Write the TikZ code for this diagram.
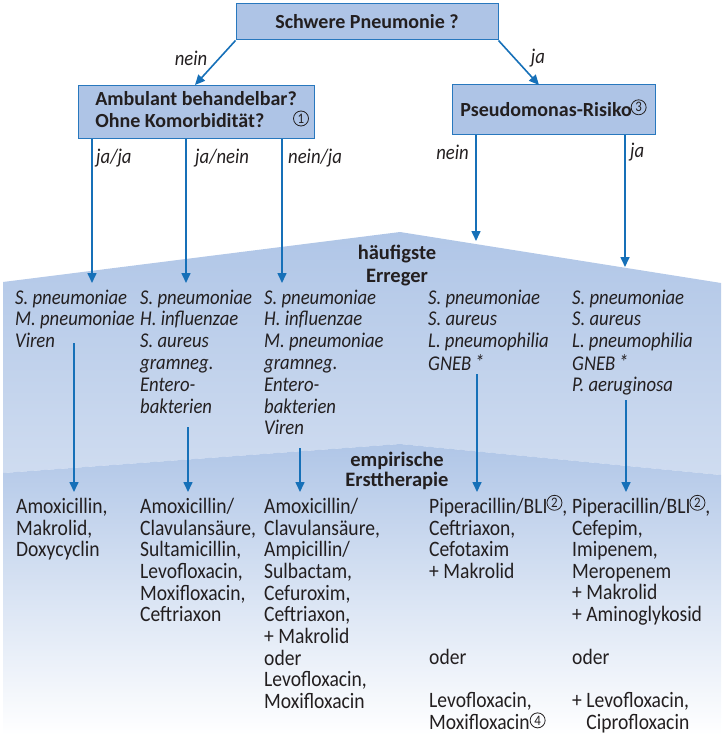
\documentclass[tikz,border=0pt]{standalone}
\usepackage{fontspec}
\setmainfont{Carlito}
\newfontfamily\bodyfont{Carlito}[FakeStretch=0.89]
\usetikzlibrary{arrows.meta}
\definecolor{boxfill}{RGB}{174,196,230}
\definecolor{boxline}{RGB}{40,120,190}
\definecolor{arrowc}{RGB}{22,112,184}
\definecolor{txt}{RGB}{35,31,32}
\definecolor{bandtop}{RGB}{176,198,231}
\definecolor{bandmid}{RGB}{207,220,240}
\tikzset{circnum/.style={circle, draw=txt, line width=0.8pt, inner sep=0pt, minimum size=15pt, text=txt, font=\bodyfont\mdseries\upshape\fontsize{14.5}{14.5}\selectfont}}
\newcommand{\cnum}[2]{\smash{\raisebox{#2pt}{\tikz[baseline=(cn.base)]\node[circnum](cn){#1};}}}
\begin{document}
\begin{tikzpicture}[x=1pt,y=-1pt,
  qbox/.style={draw=boxline, line width=1pt, fill=boxfill, text=txt, font=\fontsize{20}{22}\selectfont\bfseries, inner sep=0},
  arr/.style={draw=arrowc, line width=1.6pt, -{Triangle[length=10pt,width=9pt]}},
  lbl/.style={text=txt, font=\bodyfont\itshape\fontsize{21}{22}\selectfont, inner sep=0},
  hdr/.style={text=txt, font=\fontsize{20.5}{23}\selectfont\bfseries, inner sep=0, anchor=base},
  col/.style={text=txt, font=\bodyfont\fontsize{22}{21.45}\selectfont, inner sep=0, anchor=base west},
  icol/.style={col, font=\bodyfont\itshape\fontsize{21}{21.8}\selectfont}]
\useasboundingbox (0,0) rectangle (721,735);
% background bands
\shade[top color=bandtop, bottom color=bandmid] (3,282) -- (400,232) -- (721,283) -- (721,475) -- (400,444) -- (3,473) -- cycle;
\shade[top color=bandtop, bottom color=white] (3,473) -- (400,444) -- (721,475) -- (721,735) -- (3,735) -- cycle;
% question boxes
\node[qbox, minimum width=262, minimum height=36] (q1) at (367,22) {Schwere Pneumonie ?};
\node[qbox, minimum width=236, minimum height=53] (q2) at (196,112.5) {\begin{tabular}{@{}l@{}}Ambulant behandelbar?\\Ohne Komorbidität?\end{tabular}\hspace{11pt}};
\node[circnum] (n1) at (301,118.5) {1};
\node[qbox, minimum width=203, minimum height=50] (q3) at (553.5,110) {Pseudomonas-Risiko\kern-1pt\cnum{3}{5}};
% first level arrows
\coordinate (a1) at (195,85);
\coordinate (a2) at (539,85);
\draw[arr] (q1.south west) -- (a1);
\draw[arr] (q1.south east) -- (a2);
\node[lbl] (l1) at (191,58) {nein};
\node[lbl] (l2) at (538,58) {ja};
% arrows to pathogens
\coordinate (t1) at (92,283);
\coordinate (t2) at (186,283);
\coordinate (t3) at (282,283);
\coordinate (t4) at (476,241);
\coordinate (t5) at (625,267);
\draw[arr] (q2.south -| t1) -- (t1);
\draw[arr] (q2.south -| t2) -- (t2);
\draw[arr] (q2.south -| t3) -- (t3);
\draw[arr] (q3.south -| t4) -- (t4);
\draw[arr] (q3.south -| t5) -- (t5);
\node[lbl, anchor=west] (l3) at (96,158) {ja/ja};
\node[lbl, anchor=west] (l4) at (195,158) {ja/nein};
\node[lbl, anchor=west] (l5) at (288,158) {nein/ja};
\node[lbl, anchor=east] (l6) at (469,152) {nein};
\node[lbl, anchor=west] (l7) at (630,152) {ja};
% headers
\node[hdr] (h1) at (397,259) {\begin{tabular}[t]{@{}c@{}}häufigste\\Erreger\end{tabular}};
\node[hdr, font=\fontsize{20.5}{20}\selectfont\bfseries] (h2) at (397,466) {\begin{tabular}[t]{@{}c@{}}empirische\\Ersttherapie\end{tabular}};
% pathogens
\node[icol] (e1) at (15,304) {\begin{tabular}[t]{@{}l@{}}S. pneumoniae\\M. pneumoniae\\Viren\end{tabular}};
\node[icol] (e2) at (140,304) {\begin{tabular}[t]{@{}l@{}}S. pneumoniae\\H. influenzae\\S. aureus\\gramneg.\\Entero-\\bakterien\end{tabular}};
\node[icol] (e3) at (264,304) {\begin{tabular}[t]{@{}l@{}}S. pneumoniae\\H. influenzae\\M. pneumoniae\\gramneg.\\Entero-\\bakterien\\Viren\end{tabular}};
\node[icol] (e4) at (428,304) {\begin{tabular}[t]{@{}l@{}}S. pneumoniae\\S. aureus\\L. pneumophilia\\GNEB\,\raisebox{1pt}{*}\end{tabular}};
\node[icol] (e5) at (572,304) {\begin{tabular}[t]{@{}l@{}}S. pneumoniae\\S. aureus\\L. pneumophilia\\GNEB\,\raisebox{1pt}{*}\\P. aeruginosa\end{tabular}};
% arrows to therapy
\coordinate (s1) at (74,343);  \coordinate (u1) at (74,492);
\coordinate (s2) at (188,427); \coordinate (u2) at (188,492);
\coordinate (s3) at (300,448); \coordinate (u3) at (300,492);
\coordinate (s4) at (477,374); \coordinate (u4) at (477,492);
\coordinate (s5) at (626,400); \coordinate (u5) at (626,492);
\draw[arr] (s1) -- (u1);
\draw[arr] (s2) -- (u2);
\draw[arr] (s3) -- (u3);
\draw[arr] (s4) -- (u4);
\draw[arr] (s5) -- (u5);
% therapies
\node[col] (r1) at (16,513.5) {\begin{tabular}[t]{@{}l@{}}Amoxicillin,\\Makrolid,\\Doxycyclin\end{tabular}};
\node[col] (r2) at (140,513.5) {\begin{tabular}[t]{@{}l@{}}Amoxicillin/\\Clavulansäure,\\Sultamicillin,\\Levofloxacin,\\Moxifloxacin,\\Ceftriaxon\end{tabular}};
\node[col] (r3) at (264,513.5) {\begin{tabular}[t]{@{}l@{}}Amoxicillin/\\Clavulansäure,\\Ampicillin/\\Sulbactam,\\Cefuroxim,\\Ceftriaxon,\\+ Makrolid\\oder\\Levofloxacin,\\Moxifloxacin\end{tabular}};
\node[col] (r4) at (429,513.5) {\begin{tabular}[t]{@{}l@{}}Piperacillin/BLI\kern-1pt\cnum{2}{6},\\Ceftriaxon,\\Cefotaxim\\+ Makrolid\\ {} \\ {} \\ {} \\oder\\ {} \\Levofloxacin,\\Moxifloxacin\cnum{4}{4}\end{tabular}};
\node[col] (r5) at (572,513.5) {\begin{tabular}[t]{@{}l@{}}Piperacillin/BLI\kern-1pt\cnum{2}{6},\\Cefepim,\\Imipenem,\\Meropenem\\+ Makrolid\\+ Aminoglykosid\\ {} \\oder\\ {} \\+ Levofloxacin,\\\phantom{+ }Ciprofloxacin\end{tabular}};
\end{tikzpicture}
\end{document}
